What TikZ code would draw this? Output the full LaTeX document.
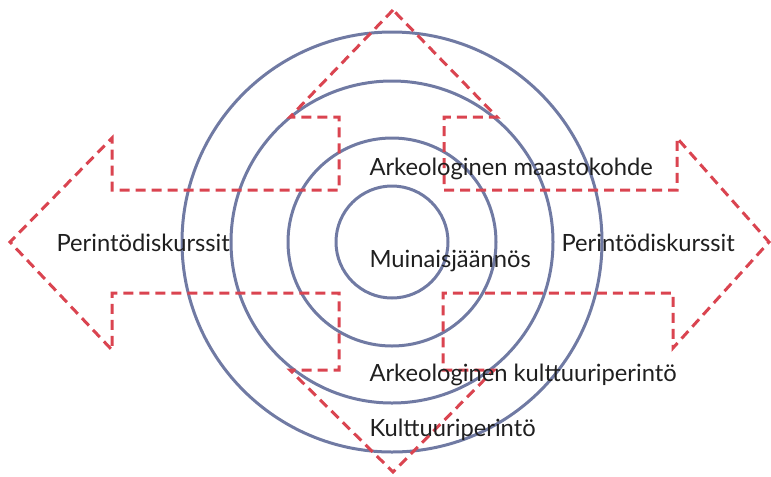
\documentclass[tikz,border=0pt]{standalone}
\usepackage{fontspec}
\setmainfont{Lato}
\definecolor{ringblue}{RGB}{112,122,163}
\definecolor{dashred}{RGB}{218,68,80}
\tikzset{every picture/.style={line width=0.75pt}}

\begin{document}
\begin{tikzpicture}[x=0.75pt,y=0.75pt,yscale=-1,xscale=1,
  ring/.style={draw=ringblue, line width=2.25pt},
  arm/.style={draw=dashred, line width=2.25pt, dash pattern=on 7.5pt off 4.5pt},
  label/.style={anchor=west, inner sep=0.75pt, text=black!88, font=\fontsize{17.8}{21}\selectfont}]
%set diagram left start at 0, and has height of 476
\path[use as bounding box] (0,0) rectangle (771,476);

%Shape: Circles
\draw[ring] (392,242) circle [radius=210];
\draw[ring] (392,242) circle [radius=161];
\draw[ring] (392,242) circle [radius=104];
\draw[ring] (392,242) circle [radius=56];

%Shape: Dashed double arrow with diamond
\draw[arm] (393,10) -- (290,117) -- (339,117) -- (339,190) -- (112,190) -- (112,138)
  -- (10,242) -- (112,350) -- (112,293) -- (339,293) -- (339,370) -- (290,370)
  -- (393,472) -- (494,370) -- (443,370) -- (443,293) -- (673,293) -- (673,348)
  -- (769,242) -- (677,138) -- (677,190) -- (444,190) -- (444,117) -- (497,117) -- cycle;

% Text Node
\node[label] (maasto) at (368,169) {Arkeologinen maastokohde};
% Text Node
\node[label] (muinais) at (368,261) {Muinaisjäännös};
% Text Node
\node[label] (diskvas) at (55,243) {Perintödiskurssit};
% Text Node
\node[label] (diskoik) at (560,243) {Perintödiskurssit};
% Text Node
\node[label] (arkkult) at (368,375) {Arkeologinen kulttuuriperintö};
% Text Node
\node[label] (kult) at (368,430) {Kulttuuriperintö};

\end{tikzpicture}
\end{document}
